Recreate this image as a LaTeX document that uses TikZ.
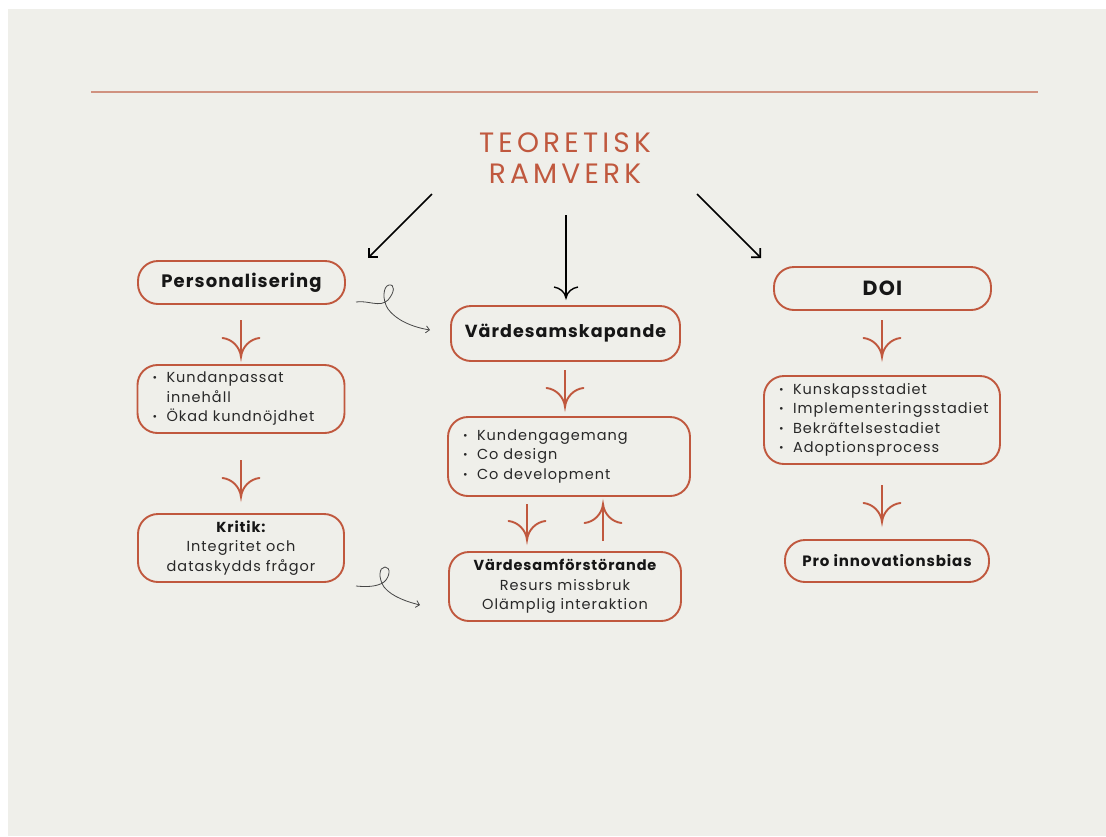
\documentclass[tikz,border=0pt]{standalone}
\usepackage{fontspec}
\setmainfont{Poppins}
\newfontfamily\titlefont{Poppins}[LetterSpace=15]
\newfontfamily\boldsp{Poppins Bold}[LetterSpace=6]
\newfontfamily\regsp{Poppins}[LetterSpace=7]
\usetikzlibrary{arrows.meta,calc}
\definecolor{bg}{RGB}{239,239,234}
\definecolor{rust}{RGB}{192,88,62}
\definecolor{salmon}{RGB}{208,146,128}
\definecolor{ink}{RGB}{22,22,22}
\definecolor{grayink}{RGB}{40,40,40}
\definecolor{curlyc}{RGB}{70,70,70}
\newcommand{\bul}{\makebox[14pt][l]{\raisebox{1pt}{\fontsize{11}{11}\selectfont •}}}
\tikzset{
  x=1pt, y=-1pt,
  box/.style={draw=rust, line width=1.9pt, rounded corners=20pt, fill=none, inner sep=0pt, text=ink},
  listbox/.style={box, align=left, inner xsep=15pt, text=grayink, font=\regsp\fontsize{14.5}{19.5}\selectfont},
  vstem/.style={draw=rust, line width=1.9pt},
  blackarrow/.style={draw=black, line width=1.6pt, -{Straight Barb[length=6.5pt,width=13pt,line width=1.6pt]}},
  curly/.style={draw=curlyc, line width=0.8pt, -{Straight Barb[length=3.5pt,width=7pt,line width=0.8pt]}},
  pics/vhead/.style={code={
    \draw[line width=1.9pt, draw=#1, line cap=round] (-18.5,-19) .. controls (-9,-18) and (-1,-10) .. (0,0) .. controls (1,-10) and (9,-18) .. (18.5,-19);
  }},
  pics/vheadsmall/.style={code={
    \draw[line width=1.4pt, draw=#1] (-12,-11) .. controls (-6,-10) and (-1,-6) .. (0,0) .. controls (1,-6) and (6,-10) .. (12,-11);
  }},
}
\begin{document}
\begin{tikzpicture}
\useasboundingbox (0,0) rectangle (1106,836);
\fill[white] (0,0) rectangle (1106,836);
\fill[bg] (8,9) rectangle (1106,836);

% top rule
\coordinate (rl) at (91,92);
\coordinate (rr) at (1038,92);
\draw[salmon, line width=1.5pt] (rl) -- (rr);

% title
\node[text=rust, align=center, font=\titlefont\fontsize{28}{31}\selectfont, inner sep=0pt] (title) at (565,158) {TEORETISK\\RAMVERK};

% left column
\node[box, minimum width=207pt, minimum height=43pt, font=\boldsp\fontsize{18}{20}\selectfont] (pers) at (241.5,282.5) {Personalisering};
\node[listbox, text width=177pt, minimum height=68pt] (plist) at (241,399) {\bul Kundanpassat\\\hspace*{14pt}innehåll\\\bul Ökad kundnöjdhet};
\node[box, minimum width=206pt, minimum height=68pt, align=center, text=grayink, font=\regsp\fontsize{14.5}{19.5}\selectfont] (krit) at (241,548) {{\boldsp\color{ink}Kritik:}\\Integritet och\\dataskydds frågor};

% middle column
\node[box, minimum width=229pt, minimum height=55pt, font=\boldsp\fontsize{17.5}{20}\selectfont] (vsk) at (565.5,333.5) {Värdesamskapande};
\node[listbox, text width=212pt, minimum height=79pt] (mlist) at (569,456.5) {\bul Kundengagemang\\\bul Co design\\\bul Co development};
\node[box, minimum width=232pt, minimum height=69pt, align=center, text=grayink, font=\regsp\fontsize{14.5}{19.5}\selectfont] (vfs) at (565,586.5) {{\boldsp\color{ink}Värdesamförstörande}\\Resurs missbruk\\Olämplig interaktion};

% right column
\node[box, minimum width=217pt, minimum height=43pt, font=\boldsp\fontsize{20.5}{22}\selectfont] (doi) at (882.5,288.5) {DOI};
\node[listbox, text width=206pt, minimum height=88pt] (dlist) at (882,420) {\bul Kunskapsstadiet\\\bul Implementeringsstadiet\\\bul Bekräftelsestadiet\\\bul Adoptionsprocess};
\node[box, minimum width=204pt, minimum height=42pt, font=\boldsp\fontsize{15}{18}\selectfont] (pro) at (887,561) {Pro innovationsbias};

% black arrows from title
\coordinate (t1s) at (432,194); \coordinate (t1e) at (368,258);
\coordinate (t3s) at (697,194); \coordinate (t3e) at (761,258);
\coordinate (t2s) at (566,215); \coordinate (t2e) at (566,298);
\draw[blackarrow] (t1s) -- (t1e);
\draw[blackarrow] (t3s) -- (t3e);
\draw[black, line width=1.4pt] (t2s) -- (t2e);
\pic at (t2e) {vheadsmall=black};

% orange arrows
\coordinate (a1s) at (241,320); \coordinate (a1e) at (241,357);
\coordinate (a2s) at (241,460); \coordinate (a2e) at (241,497);
\coordinate (a3s) at (565,370); \coordinate (a3e) at (565,407);
\coordinate (a4s) at (527,504); \coordinate (a4e) at (527,540);
\coordinate (a5s) at (603,541); \coordinate (a5e) at (603,504);
\coordinate (a6s) at (882,320); \coordinate (a6e) at (882,357);
\coordinate (a7s) at (882,485); \coordinate (a7e) at (882,522);
\foreach \s/\e in {a1s/a1e,a2s/a2e,a3s/a3e,a4s/a4e,a6s/a6e,a7s/a7e}{
  \draw[vstem] (\s) -- (\e);
  \pic at (\e) {vhead=rust};
}
\draw[vstem] (a5s) -- (a5e);
\pic[rotate=180] at (a5e) {vhead=rust};

% curly arrows
\coordinate (c1s) at (356,302); \coordinate (c1e) at (430,330);
\draw[curly] (c1s) .. controls (368,300) and (380,308) .. (388,300) .. controls (395,292) and (395,284) .. (389,285) .. controls (383,286) and (382,300) .. (388,309) .. controls (396,320) and (412,327) .. (c1e);
\coordinate (c2s) at (356,586); \coordinate (c2e) at (420,605);
\draw[curly] (c2s) .. controls (366,587) and (377,587) .. (384,582) .. controls (390,577) and (391,567) .. (385,567) .. controls (379,567) and (378,578) .. (384,587) .. controls (392,597) and (408,602) .. (c2e);
\end{tikzpicture}
\end{document}
